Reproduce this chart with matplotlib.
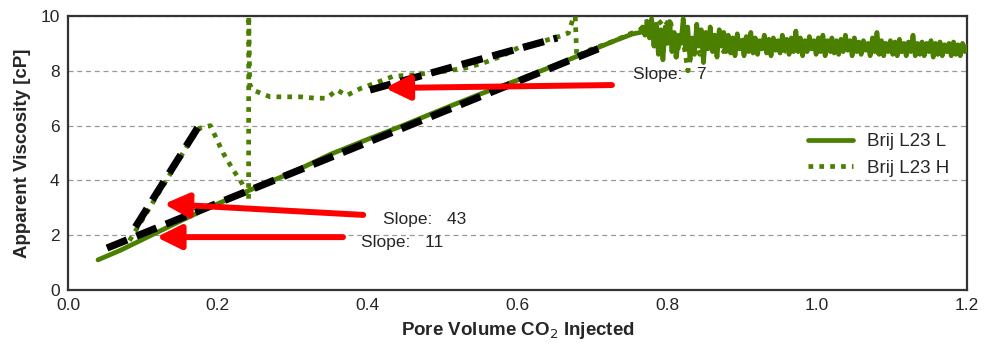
import numpy as np
import matplotlib
matplotlib.use("Agg")
import matplotlib.pyplot as plt
from matplotlib import font_manager

# ---------------- data ----------------
# Brij L23 L (solid) - rising part
l_x_rise = [0.04, 0.07, 0.10, 0.13, 0.16, 0.20, 0.243, 0.30, 0.35, 0.40, 0.443, 0.50, 0.55, 0.60, 0.65, 0.70, 0.73, 0.754]
l_y_rise = [1.10, 1.45, 1.85, 2.25, 2.65, 3.15, 3.65, 4.30, 4.95, 5.50, 5.96, 6.60, 7.15, 7.66, 8.20, 8.76, 9.10, 9.35]
# Brij L23 L - noisy plateau (sampled from 0.764 to 1.2)
l_y_plateau = [9.4, 9.6, 9.3, 9.8, 9.2, 9.9, 8.9, 9.7, 8.6, 9.5, 8.4, 9.6, 9.0, 9.8, 8.7, 9.4, 8.5, 9.3, 9.0, 9.9,
               8.8, 9.6, 8.4, 9.2, 8.6, 9.7, 8.9, 9.5, 8.3, 9.4, 8.8, 9.6, 8.7, 9.3, 8.5, 9.5, 8.9, 9.4, 8.7,
               9.3, 8.65, 9.2, 8.55, 9.35, 8.8, 9.1, 8.55, 9.25, 8.7,
               9.4, 8.65, 9.2, 8.6, 9.1, 8.8, 9.3, 8.65, 9.15, 8.55,
               9.2, 8.75, 9.1, 8.65, 9.3, 8.8, 9.15, 8.6, 9.2, 8.7,
               9.45, 8.7, 9.2, 8.55, 9.1, 8.7, 9.25, 8.8, 9.1, 8.6,
               9.2, 8.7, 9.3, 8.55, 9.1, 8.75, 9.2, 8.65, 9.05, 8.6,
               9.15, 8.7, 9.3, 8.75, 9.1, 8.55, 9.2, 8.7, 9.05, 8.6,
               9.1, 8.75, 9.0, 8.55, 9.2, 8.7, 9.4, 8.6, 9.1, 8.55,
               9.0, 8.7, 9.1, 8.6, 9.05, 8.55, 9.15, 8.7, 9.0, 8.55,
               9.05, 8.7, 9.3, 8.55, 9.0, 8.6, 9.05, 8.55, 9.0, 8.7,
               9.1, 8.5, 9.0, 8.6, 9.05, 8.55, 8.95, 8.7, 9.0, 8.55,
               9.05, 8.6, 8.95, 8.55, 9.0, 8.7, 8.9]

# Brij L23 H (dotted)
h_x_main = [0.082, 0.10, 0.12, 0.14, 0.16, 0.175, 0.19, 0.207, 0.22, 0.232, 0.241, 0.2412, 0.2425, 0.247, 0.26,
            0.27, 0.29, 0.31, 0.33, 0.345, 0.359, 0.372, 0.39, 0.41, 0.434, 0.46, 0.497, 0.53, 0.554, 0.58,
            0.603, 0.63, 0.653, 0.668, 0.674, 0.677, 0.679, 0.69, 0.71, 0.73, 0.75]
h_y_main = [1.80, 2.60, 3.50, 4.40, 5.30, 5.90, 6.00, 5.00, 4.40, 3.90, 3.30, 10.0, 7.50, 7.30, 7.15,
            7.05, 7.05, 7.05, 7.00, 7.00, 7.30, 7.10, 7.35, 7.55, 7.80, 7.85, 7.96, 8.10, 8.28, 8.55,
            8.87, 9.05, 9.23, 9.38, 9.90, 10.0, 8.50, 8.70, 8.90, 9.10, 9.35]
h_y_plateau = [9.5, 9.8, 9.3, 9.85, 9.6, 9.9, 8.5, 9.4, 8.0, 9.1, 8.6, 9.3, 8.8, 9.2, 8.7, 9.1, 8.9, 9.2, 8.6, 9.0,
               8.8, 9.15, 8.7, 9.0, 8.6, 9.1, 8.8, 9.0, 8.7, 9.05, 8.85, 9.0, 8.7, 9.1, 8.8, 8.95, 8.7, 9.0, 8.8, 8.95,
               8.65, 9.0, 8.75, 8.9, 8.7, 9.0, 8.75, 8.9, 8.7, 8.95, 8.8, 8.9, 8.7, 8.85, 8.75, 8.85]

# fitted slope lines (black dashed)
fit11_x = [0.052, 0.720]
fit11_y = [1.53, 8.94]
fit43_x = [0.090, 0.176]
fit43_y = [2.30, 6.05]
fit7_x = [0.403, 0.653]
fit7_y = [7.30, 9.20]

# annotations: text, text position, arrow tail, arrow tip
ann_texts = ["Slope:   7", "Slope:   43", "Slope:   11"]
ann_text_xy = [(0.754, 7.85), (0.42, 2.59), (0.391, 1.72)]
ann_tail = [(0.726, 7.48), (0.394, 2.74), (0.367, 1.93)]
ann_tip = [(0.423, 7.37), (0.128, 3.14), (0.118, 1.93)]

x_ticks = [0.0, 0.2, 0.4, 0.6, 0.8, 1.0, 1.2]
y_ticks = [0, 2, 4, 6, 8, 10]

# ---------------- plot ----------------
green = "#4a7f00"
installed = {f.name for f in font_manager.fontManager.ttflist}
narrow = "Liberation Sans Narrow" if "Liberation Sans Narrow" in installed else "Liberation Sans"

plt.rcParams['font.family'] = ['Liberation Sans', 'DejaVu Sans']

fig = plt.figure(figsize=(9.89, 3.48), dpi=100)
ax = fig.add_axes([0.0688, 0.1667, 0.9090, 0.7873])

l_x = l_x_rise + list(np.linspace(0.764, 1.2, len(l_y_plateau)))
l_y = l_y_rise + l_y_plateau
h_x = h_x_main + list(np.linspace(0.764, 1.2, len(h_y_plateau)))
h_y = h_y_main + h_y_plateau

ax.plot(l_x, l_y, color=green, lw=3.4, solid_capstyle='round', solid_joinstyle='round', label="Brij L23 L", zorder=3)
ax.plot(h_x, h_y, color=green, lw=3.4, linestyle=(0, (1, 1.3)), dash_capstyle='butt', label="Brij L23 H", zorder=4)

for fx, fy in [(fit11_x, fit11_y), (fit43_x, fit43_y), (fit7_x, fit7_y)]:
    ax.plot(fx, fy, color='black', lw=5.2, linestyle=(0, (3.0, 1.4)), dash_capstyle='butt', zorder=5)

for t, txy, tail, tip in zip(ann_texts, ann_text_xy, ann_tail, ann_tip):
    ax.annotate('', xy=tip, xytext=tail,
                arrowprops=dict(arrowstyle='-|>,head_length=1.05,head_width=0.52', color='#ff0000',
                                lw=4.3, mutation_scale=14, shrinkA=0, shrinkB=0), zorder=6)
    ax.text(txy[0], txy[1], t, fontsize=12.5, color='#262626', ha='left', va='center', zorder=7)

ax.set_xlim(0, 1.2)
ax.set_ylim(0, 10)
ax.set_xticks(x_ticks)
ax.set_xticklabels([f"{v:.1f}" for v in x_ticks], family=[narrow, 'DejaVu Sans'], fontsize=12.5, color='#262626')
ax.set_yticks(y_ticks)
ax.set_yticklabels([str(v) for v in y_ticks], family=[narrow, 'DejaVu Sans'], fontsize=12.5, color='#262626')
ax.tick_params(length=0, pad=6)

ax.yaxis.grid(True, color='#999999', linestyle=(0, (4, 3)), lw=0.9)
ax.set_axisbelow(True)

for s in ax.spines.values():
    s.set_color('#333333')
    s.set_linewidth(1.6)

ax.set_xlabel(r"Pore Volume CO$_2$ Injected", fontsize=13.5, fontweight='bold', family=[narrow, 'DejaVu Sans'],
              color='#262626', labelpad=5)
ax.set_ylabel("Apparent Viscosity [cP]", fontsize=13.5, fontweight='bold', family=[narrow, 'DejaVu Sans'],
              color='#262626', labelpad=7)

leg = ax.legend(loc='upper left', bbox_to_anchor=(0.823, 0.573), frameon=False, fontsize=13.5,
                handlelength=2.4, handletextpad=0.75, labelspacing=0.52, borderpad=0, borderaxespad=0)
for txt in leg.get_texts():
    txt.set_color('#262626')

fig.savefig("out.png", dpi=100)
